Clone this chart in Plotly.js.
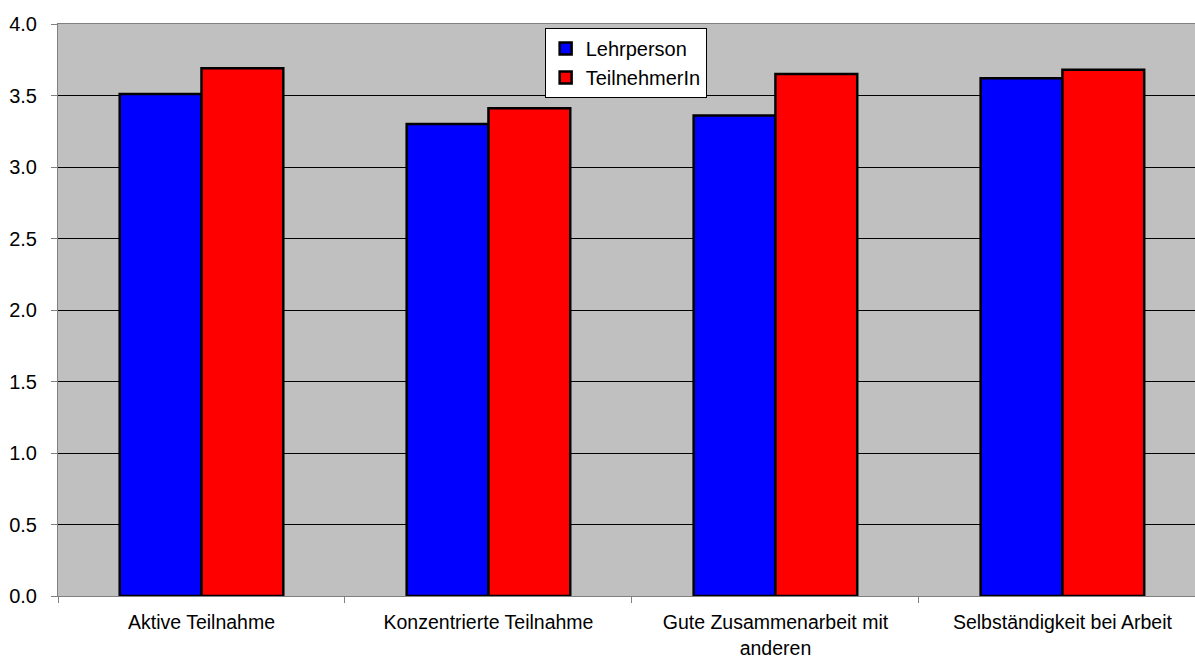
<!DOCTYPE html>
<html>
<head>
<meta charset="utf-8">
<script src="https://cdn.plot.ly/plotly-3.0.1.min.js"></script>
<style>html,body{margin:0;padding:0;background:#fff;}#chart{width:1195px;height:662px;}</style>
</head>
<body>
<div id="chart"></div>
<script>
const categories = ["Aktive Teilnahme", "Konzentrierte Teilnahme", "Gute Zusammenarbeit mit<br>anderen", "Selbständigkeit bei Arbeit"];
const lehrperson = [3.51, 3.30, 3.36, 3.62];
const teilnehmerIn = [3.69, 3.41, 3.65, 3.68];
const yTicks = [0, 0.5, 1, 1.5, 2, 2.5, 3, 3.5, 4];

const traces = [
  {type: 'bar', name: 'Lehrperson', legendgroup: 'a', x: categories, y: lehrperson,
   marker: {color: '#0000FF', line: {color: '#000000', width: 2.5}}},
  {type: 'bar', name: 'TeilnehmerIn', legendgroup: 'b', x: categories, y: teilnehmerIn,
   marker: {color: '#FF0000', line: {color: '#000000', width: 2.5}}}
];

const layout = {
  width: 1195, height: 662,
  margin: {l: 58, r: 0, t: 24, b: 66, pad: 0},
  paper_bgcolor: '#ffffff',
  plot_bgcolor: '#C0C0C0',
  barmode: 'group',
  bargap: 0.43,
  bargroupgap: 0,
  font: {family: 'Liberation Sans, Arial, sans-serif', size: 20, color: '#000'},
  xaxis: {
    type: 'category',
    range: [-0.5, 3.462],
    showgrid: false,
    showline: true, linecolor: '#808080', linewidth: 1, mirror: true,
    ticks: 'outside', tickson: 'boundaries', ticklen: 6, tickcolor: '#808080',
    ticklabelstandoff: 9,
    tickfont: {size: 19.5, color: '#000'}
  },
  yaxis: {
    range: [0, 4],
    tickvals: yTicks, tickformat: '.1f',
    showgrid: true, gridcolor: '#000000', gridwidth: 1,
    zeroline: false,
    showline: true, linecolor: '#808080', linewidth: 1,
    ticks: 'outside', ticklen: 6, tickcolor: '#808080',
    ticklabelstandoff: 10,
    tickfont: {size: 20, color: '#000'}
  },
  showlegend: true,
  legend: {
    x: 0.428, y: 0.993, xanchor: 'left', yanchor: 'top',
    bgcolor: '#ffffff', bordercolor: '#000000', borderwidth: 1,
    font: {size: 20, color: '#000'},
    itemwidth: 30, traceorder: 'grouped', tracegroupgap: 0
  }
};

Plotly.newPlot('chart', traces, layout, {displayModeBar: false, staticPlot: true});
</script>
</body>
</html>
